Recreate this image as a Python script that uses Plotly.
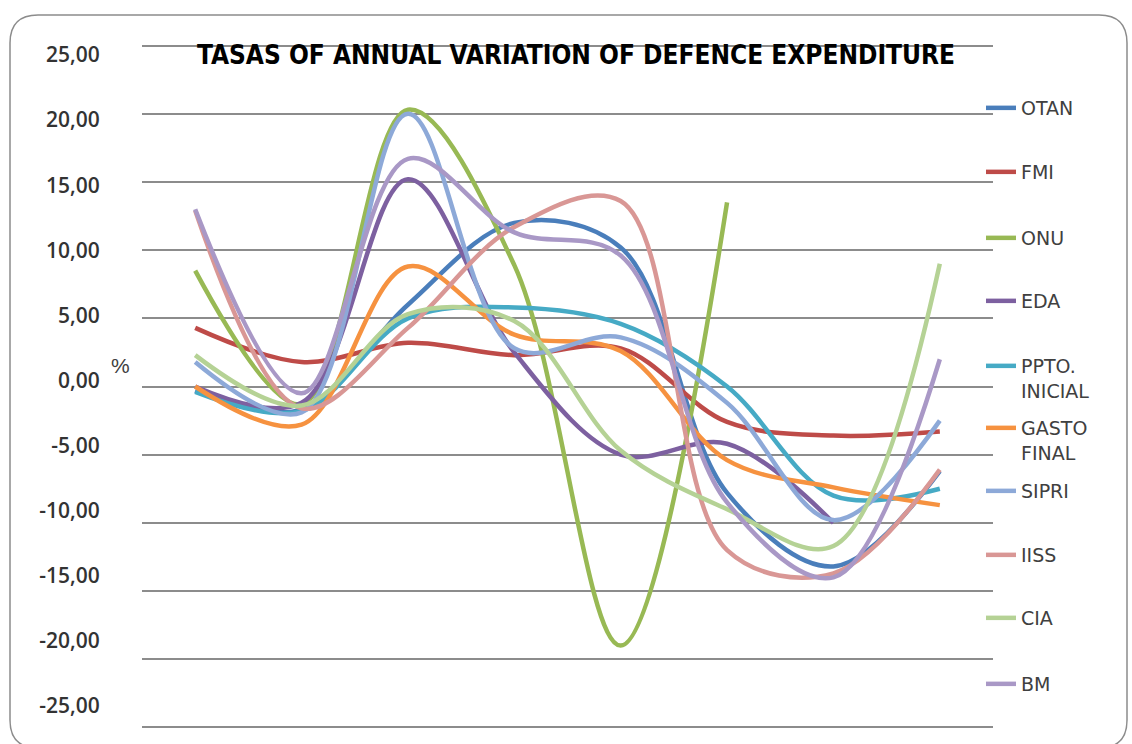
import plotly.graph_objects as go

# Annual variation rates (%) of defence expenditure by source
periodos = [1, 2, 3, 4, 5, 6, 7, 8]

otan = [-0.3, -1.7, 6.0, 12.0, 10.2, -7.8, -13.2, -6.2]
fmi = [4.3, 1.8, 3.2, 2.3, 2.8, -2.6, -3.6, -3.3]
onu = [8.5, -1.3, 20.3, 8.9, -19.0, 13.5, None, None]
eda = [0.0, -1.2, 15.2, 2.5, -5.0, -4.2, -10.0, None]
ppto_inicial = [-0.4, -1.8, 5.0, 5.8, 4.6, 0.0, -8.0, -7.5]
gasto_final = [0.0, -2.8, 8.8, 3.8, 2.6, -5.4, -7.4, -8.7]
sipri = [1.8, -1.9, 20.0, 2.8, 3.6, -1.2, -9.8, -2.5]
iiss = [12.9, -1.6, 4.3, 11.7, 13.6, -12.0, -13.7, -6.1]
cia = [2.3, -1.4, 5.3, 4.8, -4.7, -9.0, -11.7, 9.0]
bm = [13.0, -0.5, 16.7, 11.3, 9.6, -8.5, -14.0, 2.0]

nombres = ["OTAN", "FMI", "ONU", "EDA", "PPTO.<br>INICIAL", "GASTO<br>FINAL",
           "SIPRI", "IISS", "CIA", "BM"]
series = [otan, fmi, onu, eda, ppto_inicial, gasto_final, sipri, iiss, cia, bm]
colores = ["#4A7EBB", "#BE4B48", "#98B954", "#7D60A0", "#46AAC5", "#F69240",
           "#8DA9D8", "#D99795", "#B5D295", "#A998C6"]

y_ticks = [25, 20, 15, 10, 5, 0, -5, -10, -15, -20, -25]
y_ticktext = ["25,00", "20,00", "15,00", "10,00", "5,00", "0,00",
              "-5,00", "-10,00", "-15,00", "-20,00", "-25,00"]

W, H = 1132, 744
L, R, T, B = 142, 139, 44, 15
pw, ph = W - L - R, H - T - B
y_range = [-25.12, 25.12]


def px(x):
    return (x - L) / pw


def py(y):
    return (H - B - y) / ph


# value labels sit on their own evenly spaced scale (25 at 55 px, -25 at 706 px)
lab_top, lab_bot = 55.0, 706.0
k = (lab_bot - lab_top) / 50.0
y2_range = [25 - (H - B - lab_top) / k, 25 - (T - lab_top) / k]

fig = go.Figure()

legend_y = [107, 171, 237, 300, 365, 427, 490, 554, 617, 683]
for i, (nm, vals, col) in enumerate(zip(nombres, series, colores)):
    lg = "legend" if i == 0 else f"legend{i + 1}"
    fig.add_trace(go.Scatter(
        x=periodos, y=vals, name=nm, mode="lines",
        line=dict(color=col, width=4.5, shape="spline", smoothing=1.0),
        legend=lg, hoverinfo="skip",
    ))

fig.add_trace(go.Scatter(x=[None], y=[None], yaxis="y2", showlegend=False,
                         hoverinfo="skip"))

legend_font = dict(family="DejaVu Sans, Verdana, sans-serif", size=19, color="#404040")
for i, yy in enumerate(legend_y):
    key = "legend" if i == 0 else f"legend{i + 1}"
    fig.layout[key] = dict(
        x=px(981), y=py(yy - 18), xanchor="left", yanchor="top",
        bgcolor="rgba(0,0,0,0)", font=legend_font, valign="top",
        borderwidth=0, itemclick=False, itemdoubleclick=False,
    )

# rounded chart-area frame
r = 28
x0, x1, y0, y1 = 10, 1127, 15, 748
path = (
    f"M {px(x0 + r)},{py(y0)} L {px(x1 - r)},{py(y0)} "
    f"Q {px(x1)},{py(y0)} {px(x1)},{py(y0 + r)} L {px(x1)},{py(y1 - r)} "
    f"Q {px(x1)},{py(y1)} {px(x1 - r)},{py(y1)} L {px(x0 + r)},{py(y1)} "
    f"Q {px(x0)},{py(y1)} {px(x0)},{py(y1 - r)} L {px(x0)},{py(y0 + r)} "
    f"Q {px(x0)},{py(y0)} {px(x0 + r)},{py(y0)} Z"
)
fig.add_shape(type="path", path=path, xref="paper", yref="paper",
              line=dict(color="#8C8C8C", width=1.5), layer="below")

fig.add_annotation(text="%", x=px(120), y=py(365), xref="paper", yref="paper",
                   xanchor="center", yanchor="middle", showarrow=False,
                   font=dict(family="Liberation Sans, Arial", size=21, color="#404040"))

fig.update_layout(
    width=W, height=H,
    margin=dict(l=L, r=R, t=T, b=B),
    paper_bgcolor="white", plot_bgcolor="white",
    title=dict(text="<b>TASAS OF ANNUAL VARIATION OF DEFENCE EXPENDITURE</b>",
               x=576 / W, xref="container", xanchor="center",
               y=1 - 55 / H, yref="container", yanchor="middle",
               font=dict(family="Liberation Sans Narrow, DejaVu Sans Condensed, Arial Narrow, sans-serif",
                         size=26, color="#000000")),
    xaxis=dict(range=[0.5, 8.5], showgrid=False, zeroline=False, showline=False,
               showticklabels=False, ticks="", fixedrange=True),
    yaxis=dict(range=y_range, tickvals=y_ticks, showticklabels=False,
               showgrid=True, gridcolor="#8C8C8C", gridwidth=1.5,
               zeroline=False, showline=False, ticks="", fixedrange=True),
    yaxis2=dict(overlaying="y", side="left", anchor="free", position=0,
                range=y2_range, tickvals=y_ticks, ticktext=y_ticktext,
                showgrid=False, zeroline=False, showline=False,
                ticks="outside", ticklen=38, tickcolor="rgba(0,0,0,0)",
                tickfont=dict(family="Open Sans, Liberation Sans, Arial", size=21,
                              color="#333333", weight=600),
                fixedrange=True),
    showlegend=True,
)

fig.write_html("out.html")
